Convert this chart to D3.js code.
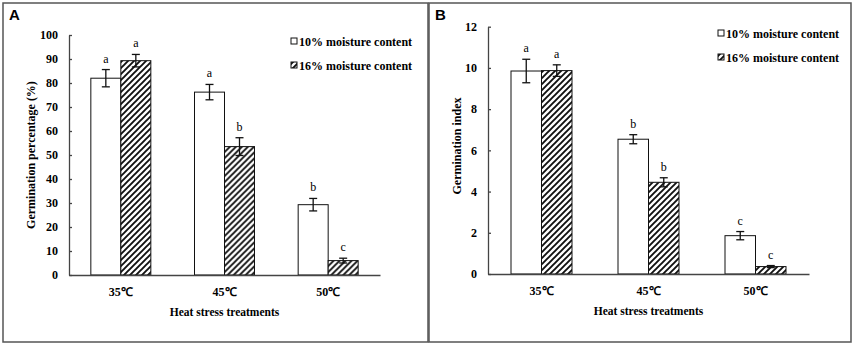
<!DOCTYPE html>
<html lang="en">
<head>
	<meta charset="utf-8">
	<title>Germination under heat stress</title>
	<script src="https://d3js.org/d3.v7.min.js"></script>
	<style>
		body { margin: 0; background: #fff; }
		svg { display: block; font-family: "Liberation Serif", "DejaVu Serif", serif; }
	</style>
</head>
<body>
	<div id="container"></div>
	<script>
		// Data
		const categories = ["35℃", "45℃", "50℃"];
		const seriesNames = ["10% moisture content", "16% moisture content"];

		const pct10 = [82, 76.2, 29.3];
		const pct16 = [89.3, 53.5, 6];
		const pctErr10 = [3.6, 3.2, 2.6];
		const pctErr16 = [2.6, 3.7, 1.0];
		const pctLetters10 = ["a", "a", "b"];
		const pctLetters16 = ["a", "b", "c"];
		const pctTicks = [0, 10, 20, 30, 40, 50, 60, 70, 80, 90, 100];

		const idx10 = [9.85, 6.54, 1.86];
		const idx16 = [9.87, 4.45, 0.36];
		const idxErr10 = [0.57, 0.22, 0.2];
		const idxErr16 = [0.28, 0.22, 0.05];
		const idxLetters10 = ["a", "b", "c"];
		const idxLetters16 = ["a", "b", "c"];
		const idxTicks = [0, 2, 4, 6, 8, 10, 12];

		// Canvas
		const width = 856;
		const height = 348;

		const svg = d3.select("#container")
			.append("svg")
			.attr("width", width)
			.attr("height", height);

		// Hatch pattern for 16% bars
		svg.append("defs")
			.append("pattern")
			.attr("id", "hatch")
			.attr("patternUnits", "userSpaceOnUse")
			.attr("width", 6)
			.attr("height", 6)
			.call(p => p.append("rect").attr("width", 6).attr("height", 6).attr("fill", "#fff"))
			.append("path")
			.attr("d", "M-1,1 l2,-2 M0,6 l6,-6 M5,7 l2,-2")
			.attr("stroke", "#111")
			.attr("stroke-width", 1.9);

		function drawPanel(opt) {
			const g = svg.append("g");

			// frame
			g.append("rect")
				.attr("x", opt.frame[0])
				.attr("y", opt.frame[1])
				.attr("width", opt.frame[2])
				.attr("height", opt.frame[3])
				.attr("fill", "none")
				.attr("stroke", "#555")
				.attr("stroke-width", 1.5);

			g.append("text")
				.attr("x", opt.frame[0] + 6)
				.attr("y", opt.frame[1] + 17)
				.text(opt.tag)
				.style("font-family", "'Liberation Sans', Arial, sans-serif")
				.style("font-weight", "700")
				.style("font-size", "15px");

			const x = d3.scaleBand()
				.domain(categories)
				.range([opt.left, opt.right]);

			const xSub = d3.scaleBand()
				.domain(seriesNames)
				.range([x.bandwidth() / 2 - opt.barW, x.bandwidth() / 2 + opt.barW]);

			const y = d3.scaleLinear()
				.domain([0, opt.ticks[opt.ticks.length - 1]])
				.range([opt.bottom, opt.top]);

			// axes (ticks point inward)
			const yAxis = g.append("g")
				.attr("transform", `translate(${opt.left},0)`)
				.call(d3.axisLeft(y).tickValues(opt.ticks).tickSize(-3).tickSizeOuter(0).tickPadding(11));
			yAxis.selectAll("text")
				.style("font-family", "'Liberation Serif', serif")
				.style("font-weight", "700")
				.style("font-size", "12px")
				.attr("fill", "#000");
			yAxis.selectAll("line, path").attr("stroke", "#444").attr("stroke-width", 1.3);

			// bars
			const rows = categories.map((c, i) => ({
				cat: c,
				vals: [
					{ s: seriesNames[0], v: opt.v10[i], e: opt.e10[i], l: opt.l10[i] },
					{ s: seriesNames[1], v: opt.v16[i], e: opt.e16[i], l: opt.l16[i] }
				]
			}));

			const grp = g.selectAll(".grp")
				.data(rows)
				.join("g")
				.attr("transform", d => `translate(${x(d.cat)},0)`);

			grp.selectAll("rect")
				.data(d => d.vals)
				.join("rect")
				.attr("x", d => xSub(d.s))
				.attr("y", d => y(d.v))
				.attr("width", xSub.bandwidth())
				.attr("height", d => y(0) - y(d.v))
				.attr("fill", d => d.s === seriesNames[0] ? "#fff" : "url(#hatch)")
				.attr("stroke", "#111")
				.attr("stroke-width", 1);

			// error bars
			const err = grp.selectAll(".err")
				.data(d => d.vals)
				.join("g")
				.attr("transform", d => `translate(${xSub(d.s) + xSub.bandwidth() / 2},0)`)
				.attr("stroke", "#111")
				.attr("stroke-width", 1.3);
			err.append("line")
				.attr("y1", d => y(d.v - d.e))
				.attr("y2", d => y(d.v + d.e));
			err.append("line")
				.attr("x1", -4).attr("x2", 4)
				.attr("y1", d => y(d.v + d.e)).attr("y2", d => y(d.v + d.e));
			err.append("line")
				.attr("x1", -4).attr("x2", 4)
				.attr("y1", d => y(d.v - d.e)).attr("y2", d => y(d.v - d.e));

			// significance letters
			grp.selectAll(".letter")
				.data(d => d.vals)
				.join("text")
				.attr("x", d => xSub(d.s) + xSub.bandwidth() / 2)
				.attr("y", d => y(d.v + d.e) - 7)
				.attr("text-anchor", "middle")
				.text(d => d.l)
				.style("font-size", "12px")
				.style("fill", "#000");

			// x axis
			const xAxis = g.append("g")
				.attr("transform", `translate(0,${opt.bottom})`)
				.call(d3.axisBottom(x).tickSize(0).tickPadding(12));
			xAxis.selectAll("text")
				.style("font-family", "'Liberation Serif', serif")
				.style("font-weight", "700")
				.style("font-size", "12px")
				.attr("fill", "#000");
			xAxis.select(".domain").attr("stroke", "#444").attr("stroke-width", 1.3);

			// titles
			g.append("text")
				.attr("x", (opt.left + opt.right) / 2)
				.attr("y", opt.bottom + 41)
				.attr("text-anchor", "middle")
				.text("Heat stress treatments")
				.style("font-weight", "700")
				.style("font-size", "11.5px")
				.style("fill", "#000");

			g.append("text")
				.attr("transform", `translate(${opt.yLabelX},${opt.yLabelY}) rotate(-90)`)
				.attr("text-anchor", "middle")
				.text(opt.yTitle)
				.style("font-weight", "700")
				.style("font-size", "12px")
				.style("fill", "#000");

			// legend
			const leg = g.selectAll(".leg")
				.data(seriesNames)
				.join("g")
				.attr("transform", (d, i) => `translate(${opt.legX},${opt.legY + i * 24})`);
			leg.append("rect")
				.attr("x", 0)
				.attr("y", -8)
				.attr("width", 6)
				.attr("height", 6)
				.attr("fill", (d, i) => i === 0 ? "#fff" : "url(#hatch)")
				.attr("stroke", "#111")
				.attr("stroke-width", 1);
			leg.append("text")
				.attr("x", 8)
				.attr("y", 0)
				.text(d => d)
				.style("font-weight", "700")
				.style("font-size", "12px")
				.style("fill", "#000");
		}

		drawPanel({
			tag: "A",
			frame: [3, 3, 425, 339],
			left: 69, right: 380, top: 35, bottom: 275,
			barW: 30,
			ticks: pctTicks,
			v10: pct10, v16: pct16, e10: pctErr10, e16: pctErr16, l10: pctLetters10, l16: pctLetters16,
			yTitle: "Germination percentage (%)",
			yLabelX: 35, yLabelY: 155,
			legX: 291, legY: 46
		});

		drawPanel({
			tag: "B",
			frame: [429, 3, 422, 339],
			left: 488, right: 809, top: 26.7, bottom: 274,
			barW: 30.5,
			ticks: idxTicks,
			v10: idx10, v16: idx16, e10: idxErr10, e16: idxErr16, l10: idxLetters10, l16: idxLetters16,
			yTitle: "Germination index",
			yLabelX: 461, yLabelY: 146,
			legX: 718, legY: 38
		});
	</script>
</body>
</html>
